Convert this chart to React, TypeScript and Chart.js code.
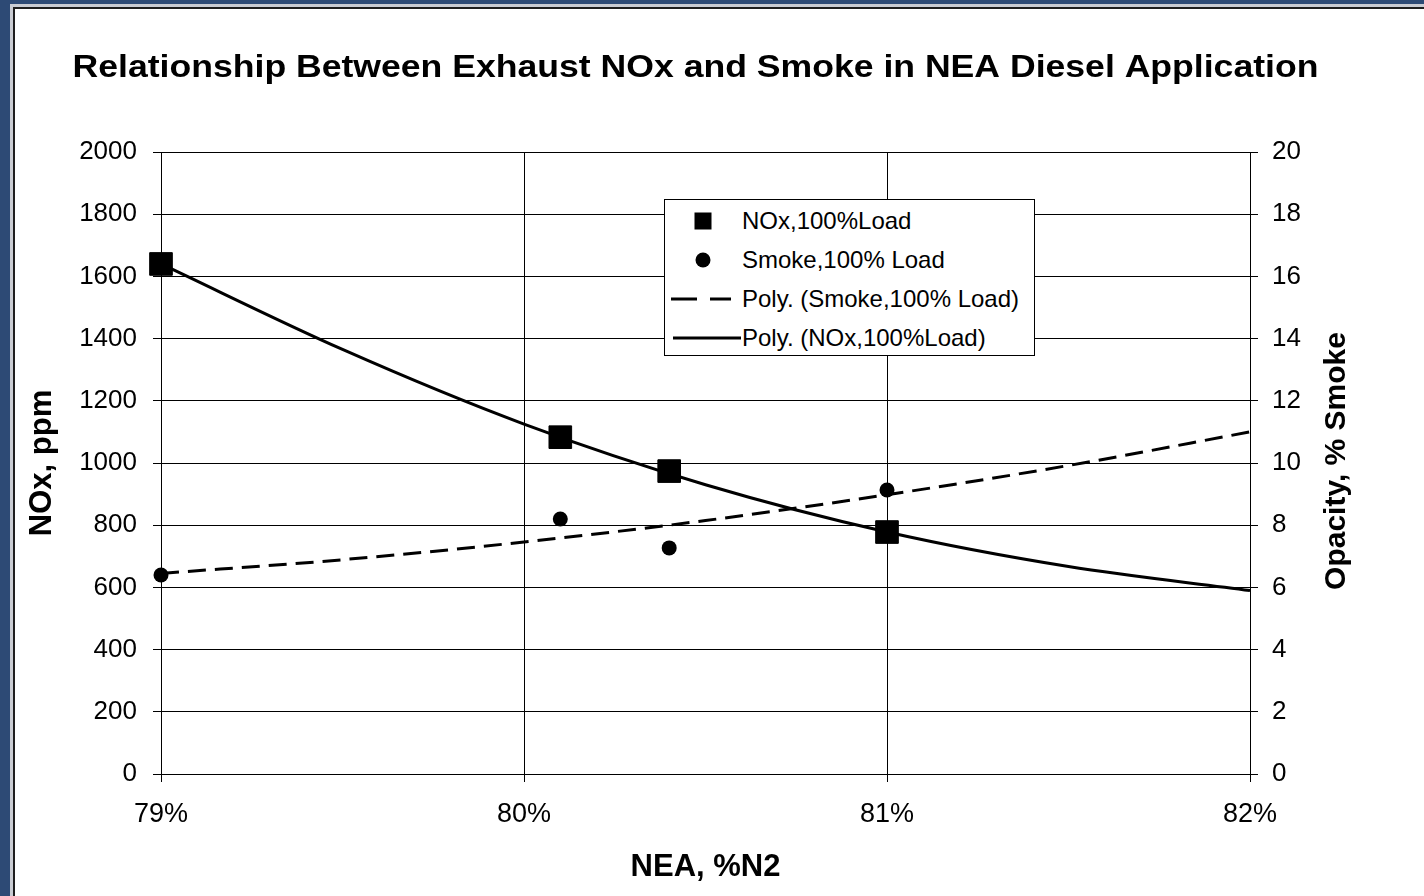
import React, { useEffect, useRef } from "react";
import { Chart, registerables } from "chart.js";

Chart.register(...registerables);

const FONT = '"Liberation Sans", Arial, Helvetica, sans-serif';

const TITLE = "Relationship Between Exhaust NOx and Smoke in NEA Diesel Application";
const X_TITLE = "NEA, %N2";
const Y_TITLE = "NOx, ppm";
const Y2_TITLE = "Opacity, % Smoke";

// measured points
const noxX = [79.0, 80.1, 80.4, 81.0];
const noxPpm = [1640, 1083, 974, 778];
const smokeX = [79.0, 80.1, 80.4, 81.0];
const smokeOpacity = [6.4, 8.2, 7.27, 9.13];

// polynomial trend lines
const trendX = [79, 79.5, 80, 80.5, 81, 81.5, 82];
const noxTrend = [1640, 1365, 1125, 930, 778, 667, 590];
const smokeTrend = [6.45, 6.89, 7.46, 8.15, 8.98, 9.92, 11.0];

const legendLabels = [
  "NOx,100%Load",
  "Smoke,100% Load",
  "Poly. (Smoke,100% Load)",
  "Poly. (NOx,100%Load)",
];

const pts = (xs: number[], ys: number[]) => xs.map((x, i) => ({ x, y: ys[i] }));

// chart title (slightly widened) and the right-hand axis title reading bottom-to-top
const extraText = {
  id: "extraText",
  afterDraw(chart: any) {
    const { ctx, chartArea } = chart;
    const cx = (chartArea.left + chartArea.right) / 2 - 10;
    ctx.save();
    ctx.fillStyle = "#000";
    ctx.font = `bold 31px ${FONT}`;
    ctx.textAlign = "center";
    ctx.textBaseline = "middle";
    ctx.translate(cx, 59);
    ctx.scale(1.148, 1);
    ctx.fillText(TITLE, 0, 0);
    ctx.restore();

    ctx.save();
    ctx.fillStyle = "#000";
    ctx.font = `bold 30px ${FONT}`;
    ctx.textAlign = "center";
    ctx.textBaseline = "middle";
    ctx.translate(chartArea.right + 87, (chartArea.top + chartArea.bottom) / 2 - 2);
    ctx.rotate(-Math.PI / 2);
    ctx.fillText(Y2_TITLE, 0, 0);
    ctx.restore();
  },
};

function LegendMarker({ i }: { i: number }) {
  if (i === 0)
    return (
      <svg width="80" height="30" style={{ position: "absolute", left: 0, top: -15 }}>
        <rect x={29.5} y={6.5} width={17} height={17} fill="#000" />
      </svg>
    );
  if (i === 1)
    return (
      <svg width="80" height="30" style={{ position: "absolute", left: 0, top: -15 }}>
        <circle cx={38} cy={15} r={7.5} fill="#000" />
      </svg>
    );
  if (i === 2)
    return (
      <svg width="80" height="30" style={{ position: "absolute", left: 0, top: -15 }}>
        <line x1={6} y1={15} x2={66} y2={15} stroke="#000" strokeWidth={3} strokeDasharray="26 13" />
      </svg>
    );
  return (
    <svg width="80" height="30" style={{ position: "absolute", left: 0, top: -15 }}>
      <line x1={8} y1={15} x2={76} y2={15} stroke="#000" strokeWidth={3} />
    </svg>
  );
}

export default function App() {
  const canvasRef = useRef<HTMLCanvasElement | null>(null);

  useEffect(() => {
    if (!canvasRef.current) return;
    const grid = {
      color: "#000",
      lineWidth: 1,
      drawTicks: true,
      tickLength: 8,
      tickColor: "#000",
    };
    const chart = new Chart(canvasRef.current, {
      type: "scatter",
      data: {
        datasets: [
          {
            label: legendLabels[0],
            data: pts(noxX, noxPpm),
            yAxisID: "y",
            pointStyle: "rect",
            pointRadius: 16,
            pointBackgroundColor: "#000",
            pointBorderColor: "#000",
            pointBorderWidth: 1,
            showLine: false,
            clip: false,
          },
          {
            label: legendLabels[1],
            data: pts(smokeX, smokeOpacity),
            yAxisID: "y1",
            pointStyle: "circle",
            pointRadius: 7.5,
            pointBackgroundColor: "#000",
            pointBorderWidth: 0,
            showLine: false,
            clip: false,
          },
          {
            label: legendLabels[2],
            data: pts(trendX, smokeTrend),
            yAxisID: "y1",
            showLine: true,
            borderColor: "#000",
            borderWidth: 3,
            borderDash: [18, 9],
            pointRadius: 0,
            cubicInterpolationMode: "monotone",
            clip: false,
          },
          {
            label: legendLabels[3],
            data: pts(trendX, noxTrend),
            yAxisID: "y",
            showLine: true,
            borderColor: "#000",
            borderWidth: 3,
            pointRadius: 0,
            cubicInterpolationMode: "monotone",
            clip: false,
          },
        ],
      },
      options: {
        responsive: false,
        animation: false,
        devicePixelRatio: 1,
        layout: { padding: { top: 143, left: 0, right: 0, bottom: 0 } },
        plugins: {
          legend: { display: false },
          title: { display: false },
          tooltip: { enabled: false },
        },
        scales: {
          x: {
            type: "linear",
            min: 79,
            max: 82,
            ticks: {
              stepSize: 1,
              callback: (v: any) => `${v}%`,
              color: "#000",
              font: { family: FONT, size: 27 },
              padding: 16,
            },
            grid,
            border: { display: true, color: "#000", width: 1 },
            title: {
              display: true,
              text: X_TITLE,
              color: "#000",
              font: { family: FONT, size: 31, weight: "bold" },
              padding: { top: 0, bottom: 10 },
            },
            afterFit: (s: any) => {
              s.height = 122;
            },
          },
          y: {
            position: "left",
            min: 0,
            max: 2000,
            ticks: {
              stepSize: 200,
              callback: (v: any) => String(v),
              color: "#000",
              font: { family: FONT, size: 26 },
              padding: 16,
            },
            grid,
            border: { display: true, color: "#000", width: 1 },
            title: {
              display: true,
              text: Y_TITLE,
              color: "#000",
              font: { family: FONT, size: 31, weight: "bold" },
              padding: { top: 9, bottom: 0 },
            },
            afterFit: (s: any) => {
              s.width = 146;
            },
          },
          y1: {
            position: "right",
            min: 0,
            max: 20,
            ticks: {
              stepSize: 2,
              callback: (v: any) => String(v),
              color: "#000",
              font: { family: FONT, size: 26 },
              padding: 14,
            },
            grid: { ...grid, drawOnChartArea: false },
            border: { display: true, color: "#000", width: 1 },
            afterFit: (s: any) => {
              s.width = 174;
            },
          },
        },
      },
      plugins: [extraText],
    } as any);
    return () => chart.destroy();
  }, []);

  return (
    <div style={{ position: "fixed", inset: 0, background: "#2d4a75", overflow: "hidden" }}>
      <div
        style={{
          position: "absolute",
          left: 10,
          top: 4,
          right: 0,
          bottom: 0,
          background: "#fff",
          borderLeft: "3px solid #c9ccd3",
          borderTop: "3px solid #c9ccd3",
        }}
      />
      <div
        style={{
          position: "absolute",
          left: 13,
          top: 7,
          right: 0,
          bottom: 0,
          background: "#fff",
          borderLeft: "2px solid #1e1e1e",
          borderTop: "2px solid #1e1e1e",
        }}
      />
      <canvas
        ref={canvasRef}
        width={1409}
        height={887}
        style={{ position: "absolute", left: 15, top: 9, width: 1409, height: 887 }}
      />
      <div
        style={{
          position: "absolute",
          left: 664,
          top: 199,
          width: 371,
          height: 157,
          boxSizing: "border-box",
          border: "1.5px solid #000",
          background: "#fff",
          fontFamily: FONT,
          fontSize: 24,
          color: "#000",
        }}
      >
        {legendLabels.map((t, i) => (
          <div key={t} style={{ position: "absolute", left: 0, top: 21 + i * 39, width: "100%" }}>
            <LegendMarker i={i} />
            <div
              style={{
                position: "absolute",
                left: 77,
                top: -15,
                lineHeight: "30px",
                whiteSpace: "nowrap",
              }}
            >
              {t}
            </div>
          </div>
        ))}
      </div>
    </div>
  );
}
